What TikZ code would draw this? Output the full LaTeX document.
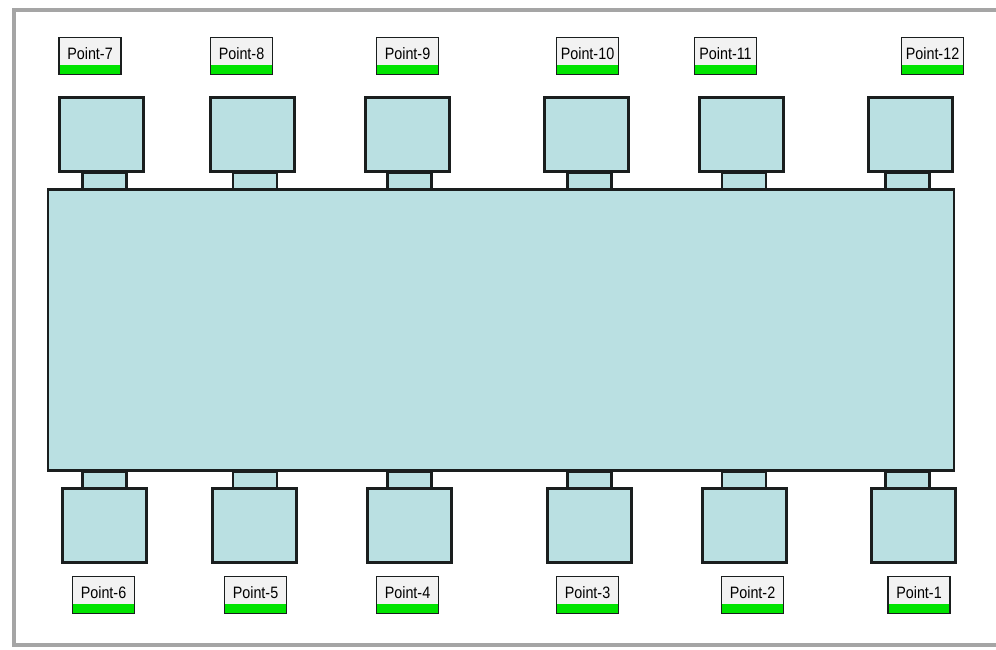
\documentclass[tikz,border=0pt]{standalone}
\usepackage{fontspec}
\setmainfont{Liberation Sans}[FakeStretch=0.87]
\definecolor{bodyfill}{RGB}{186,224,226}
\definecolor{edge}{RGB}{26,30,30}
\definecolor{tagfill}{RGB}{242,242,242}
\definecolor{tagband}{RGB}{0,228,0}
\definecolor{framegrey}{RGB}{165,165,165}
\tikzset{
  chassis/.style={draw=edge, fill=bodyfill, line width=2.5pt, inner sep=0pt},
  pointbox/.style={draw=edge, fill=bodyfill, line width=3pt, inner sep=0pt,
    minimum width=84pt, minimum height=74pt},
  neck/.style={draw=edge, fill=bodyfill, line width=2.5pt, inner sep=0pt,
    minimum width=44pt, minimum height=16pt},
  pointtag/.style={draw=edge, fill=tagfill, line width=1.3pt, inner sep=0pt,
    minimum width=62pt, minimum height=37pt,
    path picture={\fill[tagband] (path picture bounding box.south west)
      rectangle ([yshift=10pt]path picture bounding box.south east);}},
  tagtext/.style={font=\fontsize{16.5}{16.5}\selectfont, inner sep=0pt, anchor=base}
}
\begin{document}
\begin{tikzpicture}[x=1pt,y=-1pt]
  \useasboundingbox (0,0) rectangle (996,649);
  \fill[white] (0,0) rectangle (996,649);
  % outer panel frame
  \begin{scope}
    \clip (0,0) rectangle (996,649);
    \draw[framegrey, line width=4pt] (13.5,9.5) rectangle (1010,644.5);
  \end{scope}

  % central body
  \node[chassis, minimum width=906pt, minimum height=281pt] (body) at (501,330) {};

  % upper row: tag, box, neck
  \foreach \n/\tx/\bx/\nx in {7/90/101.5/104.5, 8/241.5/252.5/255, 9/407.5/407.5/409.5,
                               10/587.5/586.5/589.5, 11/725.5/741.5/744, 12/932.5/910/907.5}{
    \node[pointbox] (box\n) at (\bx,134.5) {};
    \node[neck] (neck\n) at (\nx,181) {};
    \node[pointtag] (tag\n) at (\tx,56) {};
    \node[tagtext] (lbl\n) at ([yshift=-23pt]tag\n.north) {Point-\n};
  }

  % lower row: neck, box, tag
  \foreach \n/\tx/\bx/\nx in {6/103.5/104/104.5, 5/255.5/254/255, 4/407.5/409.5/409.5,
                               3/587.5/589/589.5, 2/752.5/744.5/744, 1/919/913/907.5}{
    \node[neck] (neck\n) at (\nx,480) {};
    \node[pointbox] (box\n) at (\bx,525.5) {};
    \node[pointtag] (tag\n) at (\tx,595) {};
    \node[tagtext] (lbl\n) at ([yshift=-23pt]tag\n.north) {Point-\n};
  }
\end{tikzpicture}
\end{document}
